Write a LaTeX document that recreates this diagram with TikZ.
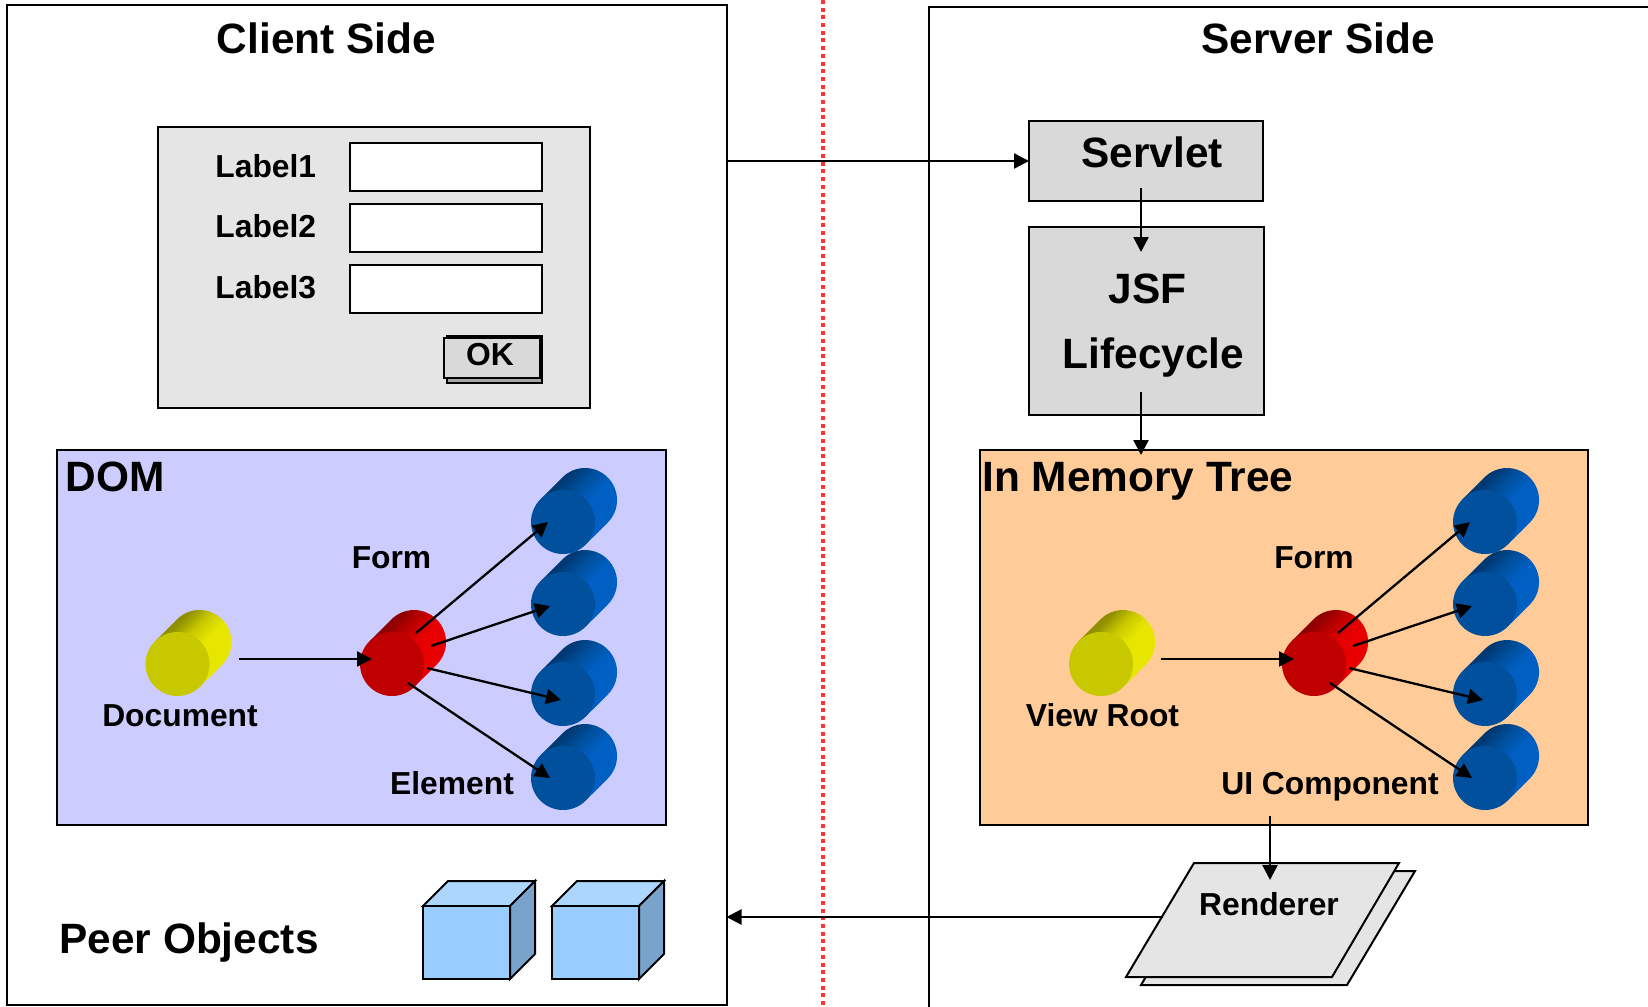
\documentclass[tikz,border=0pt]{standalone}
\usepackage{fontspec}
\setmainfont{Liberation Sans}
\usetikzlibrary{arrows.meta,fit}
\definecolor{bluefront}{HTML}{00509E}
\definecolor{blueside}{HTML}{005FC2}
\definecolor{bluedark}{HTML}{003A75}
\definecolor{redfront}{HTML}{C00000}
\definecolor{redside}{HTML}{E80000}
\definecolor{reddark}{HTML}{8F0000}
\definecolor{yellowfront}{HTML}{C8C800}
\definecolor{yellowside}{HTML}{E6E600}
\definecolor{yellowdark}{HTML}{8F8F00}
\definecolor{cubeFront}{HTML}{99CCFF}
\definecolor{cubeTop}{HTML}{ADD6FF}
\definecolor{cubeSide}{HTML}{7AA3CC}
\definecolor{domFill}{HTML}{CCCCFF}
\definecolor{memFill}{HTML}{FFCC99}
\definecolor{splitRed}{HTML}{FF3333}
\tikzset{
  panel/.style={draw=black,line width=1pt,inner sep=0pt,outer sep=0pt},
  conn/.style={draw=black,line width=1.15pt,-{Triangle[length=7.5pt,width=7.5pt]}},
  bigtext/.style={inner sep=0pt,font=\fontsize{21.2}{25}\selectfont\bfseries},
  smalltext/.style={inner sep=0pt,font=\fontsize{15.9}{19}\selectfont\bfseries},
  cube/.style={draw=black,line width=1pt,line join=miter},
}
\newcommand{\cylshade}[1]{%
  \pgfdeclarehorizontalshading{#1shade}{100bp}{color(0bp)=(#1dark); color(32bp)=(#1dark);
    color(42bp)=(#1front); color(52bp)=(#1side); color(100bp)=(#1side)}%
}
\cylshade{blue}
\cylshade{red}
\cylshade{yellow}
% cylinder: name, x, y, colour family
\newcommand{\cyl}[4]{%
  \shade[shading=#4shade,shading angle=-45]
    ({#2-0.6},{#3-44.6}) arc[start angle=225,end angle=405,radius=32]
    -- ({#2+22.6},{#3+22.6}) -- ({#2-22.6},{#3-22.6}) -- cycle;
  \node[circle,fill=#4front,inner sep=0pt,minimum size=32pt] (#1) at (#2,#3) {};
}
% cube: x, y of the front corner at top left, width, height
\newcommand{\peercube}[4]{%
  \draw[cube,fill=cubeTop] (#1,#2) -- ({#1+25},{#2-25}) -- ({#1+#3+25},{#2-25}) -- ({#1+#3},#2) -- cycle;
  \draw[cube,fill=cubeSide] ({#1+#3},#2) -- ({#1+#3+25},{#2-25}) -- ({#1+#3+25},{#2+#4-25}) -- ({#1+#3},{#2+#4}) -- cycle;
  \draw[cube,fill=cubeFront] (#1,#2) rectangle ({#1+#3},{#2+#4});
}
\begin{document}
\begin{tikzpicture}[x=0.5pt,y=-0.5pt]
  \useasboundingbox (0,0) rectangle (1648,1006);
  \clip (0,0) rectangle (1648,1006);
  % the two sides
  \node[panel,fit={(6.5,5.5)(726.5,1005)}] (client) {};
  \node[panel,fit={(929,7.5)(1700,1100)}] (server) {};
  \draw[splitRed,line width=2pt,dash pattern=on 2pt off 1.85pt] (823,0) -- (823,1006);
  \node[bigtext] (clienttitle) at (326.5,38) {Client Side};
  \node[bigtext] (servertitle) at (1318,38) {Server Side};

  % html form
  \node[panel,fill=black!10,fit={(158,127)(590,408)}] (page) {};
  \begin{scope}[every node/.style={panel,fill=white}]
  \node[fit={(350,143)(542,191)}] (fielda) {};
  \node[fit={(350,204)(542,252)}] (fieldb) {};
  \node[fit={(350,265)(542,313)}] (fieldc) {};
  \end{scope}
  \node[smalltext,anchor=base west] (labela) at (215,177) {Label1};
  \node[smalltext,anchor=base west] (labelb) at (215,237) {Label2};
  \node[smalltext,anchor=base west] (labelc) at (215,298) {Label3};
  \node[panel,fill=black!35,fit={(447,336)(542,383)}] (okshadow) {};
  \node[panel,fill=black!15,fit={(444,338)(540,378)}] (okbutton) {};
  \node[smalltext] (oktext) at (490,355) {OK};

  % servlet and lifecycle
  \node[panel,fill=black!15,fit={(1029,121)(1263,201)}] (servlet) {};
  \node[panel,fill=black!15,fit={(1029,227)(1264,415)}] (jsf) {};
  \node[bigtext,anchor=base] (servlettext) at (1152,168) {Servlet};
  \node[bigtext,anchor=base] (jsftext) at (1147.5,303) {JSF};
  \node[bigtext,anchor=base] (lifetext) at (1153.5,368) {Lifecycle};

  % trees
  \node[panel,fill=domFill,fit={(57,450)(666,825)}] (dom) {};
  \node[panel,fill=memFill,fit={(980,450)(1588,825)}] (memory) {};
  \node[bigtext,anchor=base west] (domtext) at (65,491) {DOM};
  \node[bigtext,anchor=base west] (memorytext) at (982,491) {In Memory Tree};

  \cyl{document}{177.5}{664}{yellow}
  \cyl{form}{392}{664}{red}
  \cyl{elema}{563}{522}{blue}
  \cyl{elemb}{563}{604}{blue}
  \cyl{elemc}{563}{694}{blue}
  \cyl{elemd}{563}{778}{blue}
  \cyl{viewroot}{1101}{664}{yellow}
  \cyl{uiform}{1314}{664}{red}
  \cyl{uia}{1485}{522}{blue}
  \cyl{uib}{1485}{604}{blue}
  \cyl{uic}{1485}{694}{blue}
  \cyl{uid}{1485}{778}{blue}

  \node[smalltext,anchor=base] (formtext) at (391.5,568) {Form};
  \node[smalltext,anchor=base] (doctext) at (180,726) {Document};
  \node[smalltext,anchor=base] (elemtext) at (452,794) {Element};
  \node[smalltext,anchor=base] (uiformtext) at (1314,568) {Form};
  \node[smalltext,anchor=base] (roottext) at (1102.5,726) {View Root};
  \node[smalltext,anchor=base] (uitext) at (1330,794) {UI Component};

  \draw[conn] ([shift={(61.5,-5)}]document.center) -- ([shift={(-20,-5)}]form.center);
  \draw[conn] ([shift={(24,-31)}]form.center) -- ([shift={(-15,0)}]elema.center);
  \draw[conn] ([shift={(39,-18)}]form.center) -- ([shift={(-13,2)}]elemb.center);
  \draw[conn] ([shift={(35,4)}]form.center) -- ([shift={(-2,6)}]elemc.center);
  \draw[conn] ([shift={(16,19)}]form.center) -- ([shift={(-13,0)}]elemd.center);
  \draw[conn] ([shift={(59.5,-5)}]viewroot.center) -- ([shift={(-20,-5)}]uiform.center);
  \draw[conn] ([shift={(24,-31)}]uiform.center) -- ([shift={(-15,0)}]uia.center);
  \draw[conn] ([shift={(39,-18)}]uiform.center) -- ([shift={(-13,2)}]uib.center);
  \draw[conn] ([shift={(35,4)}]uiform.center) -- ([shift={(-2,6)}]uic.center);
  \draw[conn] ([shift={(16,19)}]uiform.center) -- ([shift={(-13,0)}]uid.center);

  % peer objects
  \node[bigtext,anchor=base west] (peertext) at (59,953) {Peer Objects};
  \peercube{423}{906}{87}{73}
  \peercube{552}{906}{87}{73}

  % renderer
  \draw[panel,fill=black!10] (1209,871) -- (1415,871) -- (1347,985) -- (1141,985) -- cycle;
  \draw[panel,fill=black!10] (1194,863) -- (1399,863) -- (1332,977) -- (1126,977) -- cycle;
  \node[smalltext] (renderer) at (1269,904) {Renderer};
  \coordinate (rendertop) at (1270,880);
  \coordinate (renderleft) at (1163,917);

  % requests and responses
  \draw[conn] (client.east |- servlet) -- (servlet.west);
  \draw[conn] ([shift={(-5,-13)}]servlet.south) -- ([shift={(-5.5,25)}]jsf.north);
  \draw[conn] ([shift={(-5.5,-23)}]jsf.south) -- ([shift={(-143,5)}]memory.north);
  \draw[conn] (rendertop |- memory.south) ++(0,-9) -- (rendertop);
  \draw[conn] (renderleft) -- (client.east |- renderleft);
\end{tikzpicture}
\end{document}
